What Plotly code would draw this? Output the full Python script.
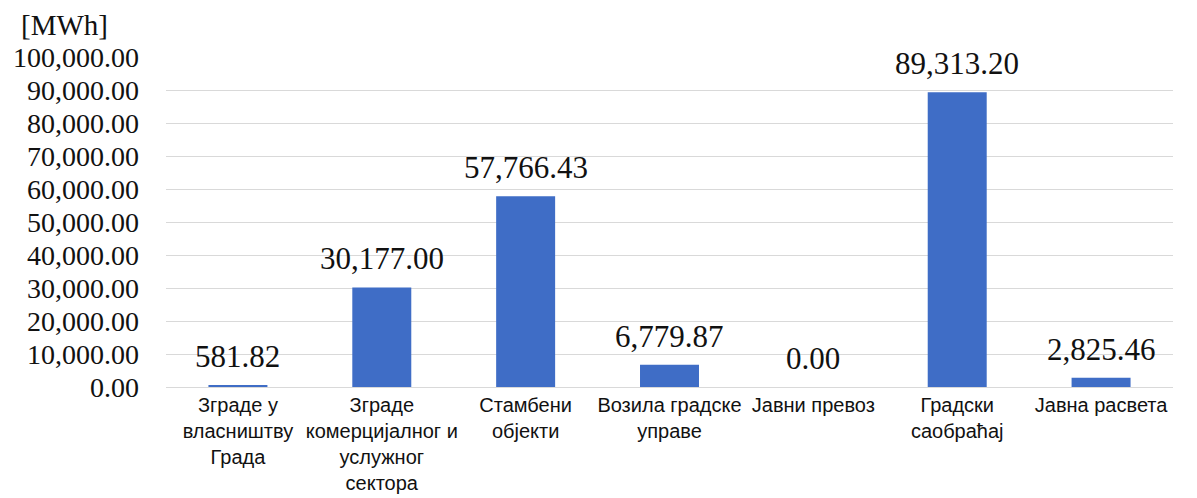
"""Energy consumption by sector bar chart."""

import plotly.graph_objects as go

categories = [
    "Зграде у<br>власништву<br>Града",
    "Зграде<br>комерцијалног и<br>услужног<br>сектора",
    "Стамбени<br>објекти",
    "Возила градске<br>управе",
    "Јавни превоз",
    "Градски<br>саобраћај",
    "Јавна расвета",
]
values = [581.82, 30177.00, 57766.43, 6779.87, 0.00, 89313.20, 2825.46]
y_ticks = [0, 10000, 20000, 30000, 40000, 50000, 60000, 70000, 80000, 90000, 100000]

fig = go.Figure()

fig.add_trace(
    go.Bar(
        x=categories,
        y=values,
        marker=dict(color="#3F6DC6", line=dict(width=0)),
        width=0.41,
        showlegend=False,
        hoverinfo="x+y",
    )
)

# value labels above bars
for cat, val in zip(categories, values):
    fig.add_annotation(
        x=cat,
        y=val,
        text=f"{val:,.2f}",
        showarrow=False,
        yanchor="bottom",
        yshift=9,
        font=dict(family="Liberation Serif", size=31, color="#111111"),
    )

fig.add_annotation(
    x=-0.146,
    y=1.0,
    xref="paper",
    yref="paper",
    xanchor="left",
    yanchor="bottom",
    yshift=14,
    text="[MWh]",
    showarrow=False,
    font=dict(family="Liberation Serif", size=29, color="#111111"),
)

# the page body has an 8px margin, so the figure is 8px smaller
fig.update_layout(
    width=1189,
    height=490,
    margin=dict(l=158, r=24, t=49, b=111),
    paper_bgcolor="white",
    plot_bgcolor="white",
    xaxis=dict(
        tickangle=0,
        tickfont=dict(family="Liberation Sans", size=20, color="#111111"),
        showline=False,
        showgrid=False,
        ticks="",
        automargin=False,
        ticklabelstandoff=4,
    ),
    yaxis=dict(
        range=[0, 100000],
        tickvals=y_ticks,
        tickformat=",.2f",
        tickfont=dict(family="Liberation Serif", size=28, color="#111111"),
        gridcolor="#D9D9D9",
        gridwidth=1,
        zeroline=True,
        zerolinecolor="#D9D9D9",
        zerolinewidth=1,
        showline=False,
        automargin=False,
        ticklabelstandoff=26,
    ),
)

fig.write_html("out.html")
